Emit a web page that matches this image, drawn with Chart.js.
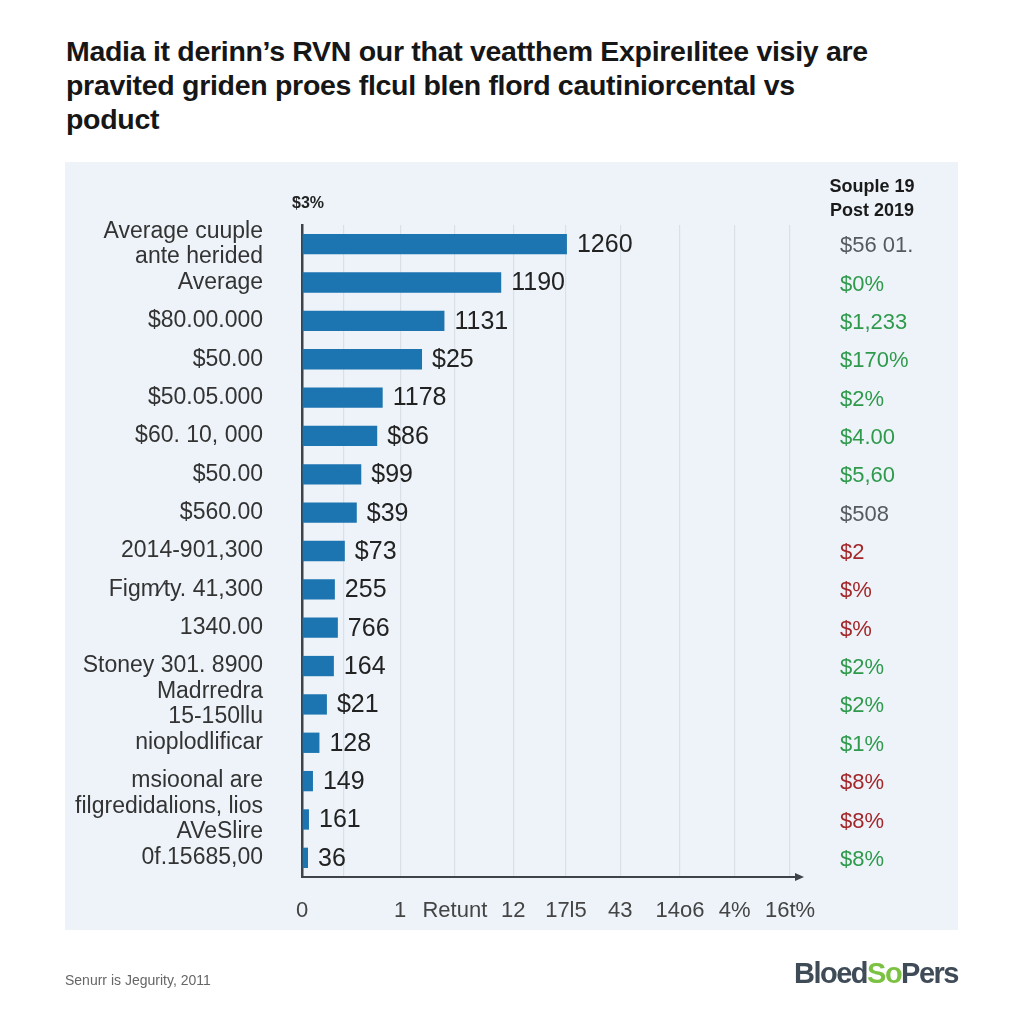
<!DOCTYPE html>
<html>
<head>
<meta charset="utf-8">
<script src="https://cdn.jsdelivr.net/npm/chart.js@4.4.1/dist/chart.umd.min.js"></script>
<style>
body{margin:0;background:#fff;width:1024px;height:1024px;overflow:hidden;font-family:"Liberation Sans",Arial,sans-serif}
#titulo{position:absolute;left:66px;top:34px;width:920px;font-weight:bold;font-size:28.5px;line-height:34px;color:#161616;letter-spacing:-0.3px}
#panel{position:absolute;left:65px;top:162px;width:893px;height:768px;background:#edf3f9}
#grafico{position:absolute;left:0;top:0}
#fuente{position:absolute;left:65px;top:972px;font-size:14px;color:#666}
#logo{position:absolute;right:66px;top:957px;font-size:29px;font-weight:bold;letter-spacing:-1.5px;color:#3f4b56}
#logo .so{color:#7cc242}
</style>
</head>
<body>
<div id="titulo">Madia it derinn’s RVN our that veatthem Expireılitee visiy are<br>pravited griden proes flcul blen flord cautiniorcental vs<br>poduct</div>
<div id="panel"></div>
<canvas id="grafico" width="1024" height="1024"></canvas>
<div id="fuente">Senurr is Jegurity, 2011</div>
<div id="logo">Bloed<span class="so">So</span>Pers</div>
<script>
var COLORES = {
    "barra": "#1c74b0",
    "texto": "#222222",
    "gris": "#555a60",
    "verde": "#2f9a4c",
    "rojo": "#a3282a",
    "grilla": "#d9e0e8",
    "eje": "#3d4349",
}

// categorias (eje y) y valores de barra
var CATEGORIAS = [
    ["Average cuuple", "ante herided"], "Average", "$80.00.000", "$50.00",
    "$50.05.000", "$60. 10, 000", "$50.00", "$560.00", "2014-901,300",
    "Figm∕ty. 41,300", "1340.00", "Stoney 301. 8900", ["Madrredra", "15-150llu"],
    "nioplodlificar", "msioonal are", ["filgredidalions, lios", "AVeSlire"], "0f.15685,00"
]
var VALORES = [53.2, 40, 28.6, 24.1, 16.2, 15.1, 11.9, 11, 8.6, 6.6, 7.2, 6.4, 5, 3.5, 2.2, 1.4, 1.2]
var ETIQUETAS_BARRA = ["1260", "1190", "1131", "$25", "1178", "$86", "$99", "$39", "$73",
    "255", "766", "164", "$21", "128", "149", "161", "36"]

// columna derecha
var ENCABEZADO_DERECHA = ["Souple 19", "Post 2019"]
var VALORES_DERECHA = ["$56 01.", "$0%", "$1,233", "$170%", "$2%", "$4.00", "$5,60", "$508",
    "$2", "$%", "$%", "$2%", "$2%", "$1%", "$8%", "$8%", "$8%"]
var TONOS_DERECHA = ["gris", "verde", "verde", "verde", "verde", "verde", "verde", "gris",
    "rojo", "rojo", "rojo", "verde", "verde", "verde", "rojo", "rojo", "verde"]

// eje x
var TICKS_X = [0, 8.4, 19.7, 30.7, 42.4, 53, 63.9, 75.9, 86.9, 98]
var TEXTO_TICKS_X = ["0", "", "1", "Retunt", "12", "17l5", "43", "14o6", "4%", "16t%"]

var FUENTE = "'Liberation Sans', Arial, sans-serif"

var anotaciones = {
    id: "anotaciones",
    afterDatasetsDraw: function(chart){
        var ctx = chart.ctx
        var meta = chart.getDatasetMeta(0)
        var area = chart.chartArea
        ctx.save()
        ctx.textBaseline = "middle"

        // valores al final de cada barra
        ctx.font = "25px " + FUENTE
        ctx.fillStyle = COLORES["texto"]
        ctx.textAlign = "left"
        for(let i=0; i<meta.data.length; i++){
            var barra = meta.data[i]
            ctx.fillText(ETIQUETAS_BARRA[i], barra.x + 10, barra.y + 1)
        }

        // columna derecha
        ctx.font = "22px " + FUENTE
        for(let i=0; i<meta.data.length; i++){
            ctx.fillStyle = COLORES[TONOS_DERECHA[i]]
            ctx.fillText(VALORES_DERECHA[i], 840, meta.data[i].y + 2)
        }
        ctx.font = "bold 18px " + FUENTE
        ctx.fillStyle = "#1a1a1a"
        ctx.textAlign = "center"
        ctx.fillText(ENCABEZADO_DERECHA[0], 872, 187)
        ctx.fillText(ENCABEZADO_DERECHA[1], 872, 211)

        // titulo corto del eje
        ctx.font = "bold 16px " + FUENTE
        ctx.textAlign = "left"
        ctx.fillStyle = COLORES["texto"]
        ctx.fillText("$3%", 292, 204)

        // flecha del eje x
        ctx.fillStyle = COLORES["eje"]
        ctx.beginPath()
        ctx.moveTo(area.right + 4, area.bottom)
        ctx.lineTo(area.right - 5, area.bottom - 4)
        ctx.lineTo(area.right - 5, area.bottom + 4)
        ctx.closePath()
        ctx.fill()
        ctx.restore()
    }
}

var chartBar = new Chart(document.getElementById("grafico"), {
    type: "bar",
    data: {
        labels: CATEGORIAS,
        datasets: [{
            data: VALORES,
            backgroundColor: COLORES["barra"],
            categoryPercentage: 1,
            barPercentage: 0.53,
        }],
    },
    options: {
        indexAxis: "y",
        responsive: false,
        animation: false,
        layout: {padding: {top: 225, right: 224, left: 0, bottom: 0}},
        plugins: {legend: {display: false}, tooltip: {enabled: false}},
        scales: {
            x: {
                type: "linear",
                min: 0,
                max: 100,
                afterBuildTicks: function(scale){
                    scale.ticks = TICKS_X.map(function(v){ return {value: v} })
                },
                afterFit: function(scale){ scale.height = 1024 - 877 },
                ticks: {
                    autoSkip: false,
                    maxRotation: 0,
                    padding: 21,
                    color: "#444",
                    font: {family: FUENTE, size: 22},
                    callback: function(v, i){ return TEXTO_TICKS_X[i] },
                },
                grid: {color: COLORES["grilla"], lineWidth: 1.2, drawTicks: false},
                border: {color: COLORES["eje"], width: 2},
            },
            y: {
                afterFit: function(scale){ scale.width = 302 },
                ticks: {
                    autoSkip: false,
                    padding: 39,
                    color: "#333",
                    font: {family: FUENTE, size: 23, lineHeight: 1.1},
                },
                grid: {drawOnChartArea: false, drawTicks: false},
                border: {color: COLORES["eje"], width: 2.5},
            },
        },
    },
    plugins: [anotaciones],
})
</script>
</body>
</html>
